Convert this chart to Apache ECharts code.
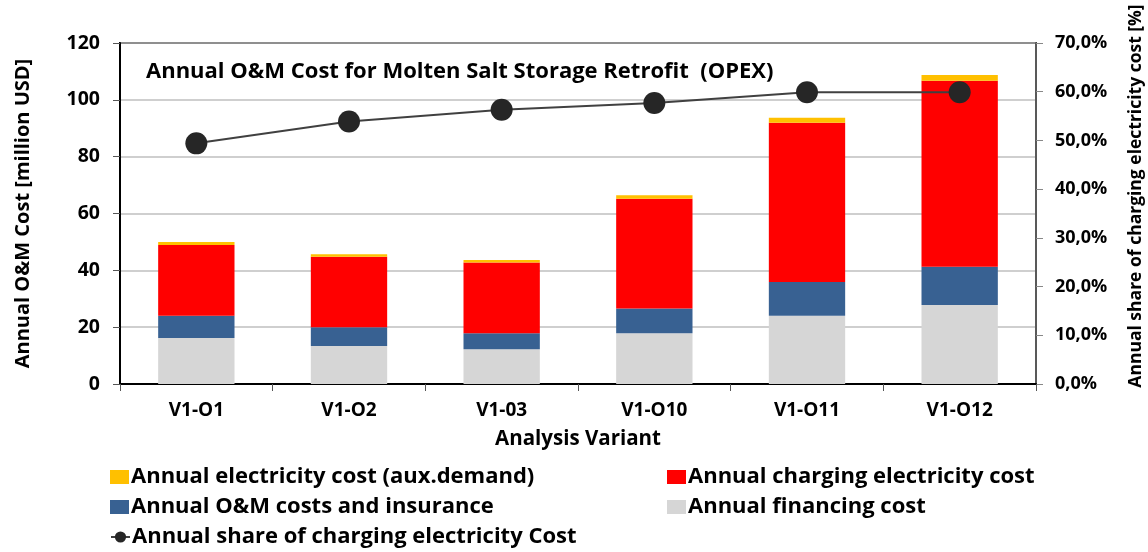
<!DOCTYPE html>
<html>
<head>
<meta charset="utf-8">
<script src="https://cdn.jsdelivr.net/npm/echarts@6/dist/echarts.min.js"></script>
<style>html,body{margin:0;padding:0;background:#fff;}#c{width:1148px;height:552px;}</style>
</head>
<body>
<div id="c"></div>
<script>
var categories = ['V1-O1', 'V1-O2', 'V1-03', 'V1-O10', 'V1-O11', 'V1-O12'];
var financingCost = [16.2, 13.4, 12.2, 17.9, 24.0, 27.8];
var omCost = [7.8, 6.6, 5.7, 8.7, 11.9, 13.5];
var chargingCost = [24.9, 24.8, 24.9, 38.6, 56.0, 65.4];
var auxCost = [1.1, 0.9, 0.8, 1.2, 1.8, 2.0];
var chargingShare = [49.4, 53.9, 56.3, 57.7, 59.9, 59.9];
var leftTicks = [0, 120, 20];
var rightTicks = [0, 70, 10];

var FONT = 'Open Sans';
var chart = echarts.init(document.getElementById('c'), null, {renderer: 'canvas'});
var legendText = {fontFamily: FONT, fontWeight: 'bold', fontSize: 22, color: '#000', padding: [0, 0, 0, -3]};
function leg(name, left, top, icon) {
  var d = {name: name};
  if (icon) d.icon = icon;
  return {left: left, top: top, itemWidth: 19, itemHeight: 14, itemGap: 0, padding: 0,
          textStyle: legendText, data: [d], selectedMode: false};
}
chart.setOption({
  backgroundColor: '#fff',
  animation: false,
  title: {
    text: 'Annual O&M Cost for Molten Salt Storage Retrofit  (OPEX)',
    left: 141, top: 56,
    textStyle: {fontFamily: FONT, fontWeight: 'bold', fontSize: 22, color: '#000'}
  },
  graphic: [{
    type: 'text', x: 1136, y: 196, rotation: Math.PI / 2,
    style: {text: 'Annual share of charging electricity cost [%]', fontFamily: FONT, fontWeight: 'bold',
            fontSize: 17.5, fill: '#000', align: 'center', verticalAlign: 'middle'}
  }],
  grid: {left: 120, right: 112, top: 43, bottom: 168, show: true, borderColor: '#000', borderWidth: 2, backgroundColor: 'transparent'},
  legend: [
    leg('Annual electricity cost (aux.demand)', 110, 466, 'rect'),
    leg('Annual charging electricity cost', 667, 466, 'rect'),
    leg('Annual O&M costs and insurance', 110, 496, 'rect'),
    leg('Annual financing cost', 667, 496, 'rect'),
    leg('Annual share of charging electricity Cost', 110, 526)
  ],
  xAxis: {
    type: 'category', data: categories,
    name: 'Analysis Variant', nameLocation: 'middle', nameGap: 45,
    nameTextStyle: {fontFamily: FONT, fontWeight: 'bold', fontSize: 20.5, color: '#000'},
    axisLine: {lineStyle: {color: '#000', width: 2}},
    axisTick: {show: true, length: 7, lineStyle: {color: '#555', width: 1}},
    axisLabel: {fontFamily: FONT, fontWeight: 'bold', fontSize: 19, color: '#000', margin: 17}
  },
  yAxis: [
    {type: 'value', min: leftTicks[0], max: leftTicks[1], interval: leftTicks[2],
     name: 'Annual O&M Cost [million USD]', nameLocation: 'middle', nameGap: 87, nameRotate: 90,
     nameTextStyle: {fontFamily: FONT, fontWeight: 'bold', fontSize: 20, color: '#000'},
     axisLine: {show: true, lineStyle: {color: '#000', width: 2}},
     axisTick: {show: true, length: 7, lineStyle: {color: '#555'}},
     axisLabel: {fontFamily: FONT, fontWeight: 'bold', fontSize: 19.5, color: '#000', margin: 20},
     splitLine: {lineStyle: {color: '#bfbfbf', width: 1.5}}},
    {type: 'value', min: rightTicks[0], max: rightTicks[1], interval: rightTicks[2], position: 'right',
     axisLine: {show: true, lineStyle: {color: '#595959', width: 2}},
     axisTick: {show: true, length: 7, lineStyle: {color: '#888'}},
     axisLabel: {fontFamily: FONT, fontWeight: 'bold', fontSize: 18, color: '#000', margin: 19,
       formatter: function (v) { return v.toFixed(1).replace('.', ',') + '%'; }},
     splitLine: {show: false}}
  ],
  series: [
    {name: 'Annual financing cost', type: 'bar', stack: 'c', data: financingCost, barWidth: '50%', itemStyle: {color: '#d6d6d6'}},
    {name: 'Annual O&M costs and insurance', type: 'bar', stack: 'c', data: omCost, itemStyle: {color: '#386192'}},
    {name: 'Annual charging electricity cost', type: 'bar', stack: 'c', data: chargingCost, itemStyle: {color: '#ff0000'}},
    {name: 'Annual electricity cost (aux.demand)', type: 'bar', stack: 'c', data: auxCost, itemStyle: {color: '#ffc000'}},
    {name: 'Annual share of charging electricity Cost', type: 'line', yAxisIndex: 1, data: chargingShare,
     symbol: 'circle', symbolSize: 22, lineStyle: {color: '#404040', width: 2},
     itemStyle: {color: '#262626'}, z: 10}
  ]
});
</script>
</body>
</html>
